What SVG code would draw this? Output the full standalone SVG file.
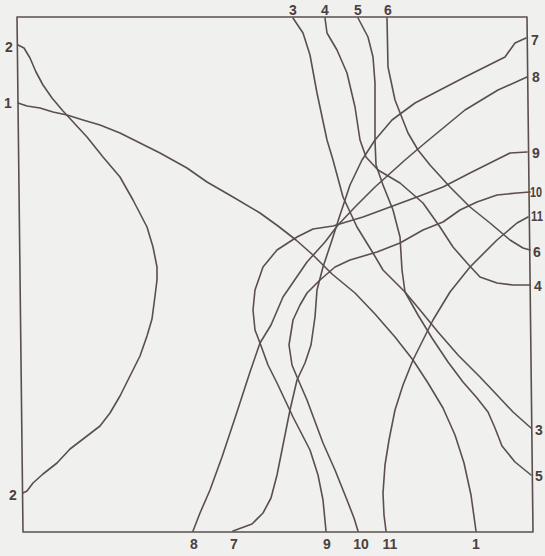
<svg xmlns="http://www.w3.org/2000/svg" width="545" height="556" viewBox="0 0 545 556">
<style>
.bg{fill:#f0f0ef}
.ln{fill:none;stroke:#5a4f4d;stroke-width:1.6;stroke-linejoin:round;stroke-linecap:round}
.lb{font-family:"Liberation Sans",Arial,sans-serif;font-size:14px;font-weight:bold;fill:#4a403e}
.m{text-anchor:middle}
</style>
<rect class="bg" x="0" y="0" width="545" height="556"/>
<g id="frame">
<path class="ln" d="M17,17 L527,17 L533,532 L23,532 Z"/>
</g>
<g id="connectors">
<path id="c1" class="ln" d="M18,103 L27,106 L40,108 L53,112 L67,115 L83,120 L100,125 L120,133 L140,143 L160,153 L187,168 L207,182 L233,197 L260,213 L278,226 L296,240 L313,255 L332,274 L355,293 L375,314 L395,337 L413,360 L428,383 L443,408 L455,435 L464,463 L471,495 L476,531"/>
<path id="c2" class="ln" d="M18,45 L24,48 L30,58 L36,72 L43,85 L52,98 L63,111 L75,124 L87,137 L103,157 L120,177 L133,200 L147,227 L153,247 L157,267 L157,280 L155,296 L152,319 L147,336 L140,356 L130,376 L120,396 L110,413 L100,426 L87,436 L70,449 L57,463 L43,474 L33,483 L27,491 L23,493"/>
<path id="c3" class="ln" d="M293,18 L303,33 L310,55 L317,93 L327,140 L333,160 L343,197 L357,227 L373,253 L383,270 L405,292 L420,310 L438,332 L458,355 L480,377 L497,395 L513,412 L531,428"/>
<path id="c4" class="ln" d="M325,18 L327,33 L337,50 L347,73 L355,107 L360,140 L366,157 L378,170 L400,183 L423,203 L440,227 L453,247 L467,263 L480,277 L497,283 L513,285 L530,285"/>
<path id="c5" class="ln" d="M358,18 L368,37 L373,57 L375,83 L375,140 L376,165 L383,185 L393,210 L400,237 L402,270 L405,292 L418,315 L432,338 L448,362 L463,382 L477,398 L488,412 L495,428 L502,446 L515,462 L531,475"/>
<path id="c6" class="ln" d="M387,18 L388,67 L395,100 L408,133 L418,150 L430,165 L450,187 L470,207 L490,223 L510,240 L523,248 L530,250"/>
<path id="c7" class="ln" d="M526,38 L515,43 L505,57 L465,77 L415,103 L392,120 L375,140 L362,160 L350,185 L340,215 L332,240 L323,267 L317,290 L315,317 L311,345 L305,363 L297,380 L290,410 L283,445 L277,475 L271,498 L263,513 L252,524 L233,531"/>
<path id="c8" class="ln" d="M527,77 L498,90 L465,110 L425,143 L405,160 L375,187 L355,207 L338,225 L325,242 L307,262 L283,297 L271,325 L260,343 L250,372 L236,415 L222,457 L210,490 L200,513 L193,531"/>
<path id="c9" class="ln" d="M527,152 L510,153 L490,163 L470,173 L443,187 L417,197 L390,207 L363,217 L333,226 L313,229 L297,237 L277,250 L263,267 L255,290 L253,310 L255,330 L260,343 L268,365 L277,383 L293,417 L310,450 L318,475 L323,500 L326,531"/>
<path id="c10" class="ln" d="M530,192 L517,193 L497,195 L477,202 L460,210 L443,222 L423,230 L400,243 L377,252 L350,260 L335,267 L320,280 L307,293 L300,305 L293,320 L289,345 L292,365 L297,377 L307,400 L323,443 L335,470 L347,500 L354,518 L358,531"/>
<path id="c11" class="ln" d="M528,217 L517,223 L497,240 L470,267 L450,292 L433,320 L423,340 L413,360 L403,385 L395,410 L389,440 L385,465 L383,493 L384,515 L386,531"/>
</g>
<g id="labels-left">
<text class="lb m" x="9" y="52">2</text>
<text class="lb m" x="8" y="108">1</text>
<text class="lb m" x="13" y="500">2</text>
</g>
<g id="labels-top">
<text class="lb m" x="293" y="15">3</text>
<text class="lb m" x="325" y="15">4</text>
<text class="lb m" x="358" y="15">5</text>
<text class="lb m" x="388" y="15">6</text>
</g>
<g id="labels-right">
<text class="lb" x="531" y="45">7</text>
<text class="lb" x="532" y="82">8</text>
<text class="lb" x="532" y="158">9</text>
<text class="lb" x="530" y="197" font-size="13" textLength="12" lengthAdjust="spacingAndGlyphs">10</text>
<text class="lb" x="531" y="221" font-size="13" textLength="12" lengthAdjust="spacingAndGlyphs">11</text>
<text class="lb" x="533" y="257">6</text>
<text class="lb" x="534" y="291">4</text>
<text class="lb" x="535" y="435">3</text>
<text class="lb" x="535" y="481">5</text>
</g>
<g id="labels-bottom">
<text class="lb m" x="194" y="549">8</text>
<text class="lb m" x="234" y="549">7</text>
<text class="lb m" x="327" y="549">9</text>
<text class="lb m" x="361" y="549">10</text>
<text class="lb m" x="390" y="549">11</text>
<text class="lb m" x="476" y="549">1</text>
</g>
</svg>
